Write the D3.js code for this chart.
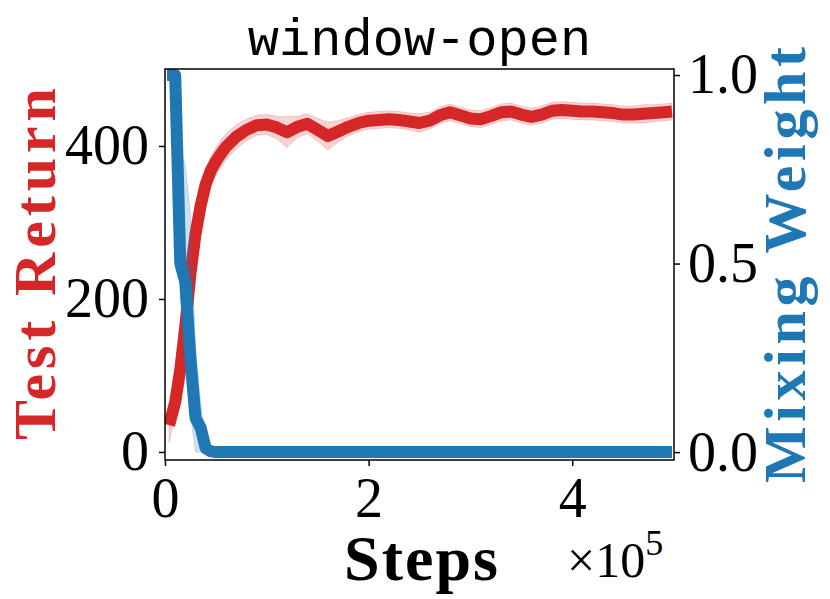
<!DOCTYPE html>
<html>
<head>
<meta charset="utf-8">
<script src="https://cdn.jsdelivr.net/npm/d3@7/dist/d3.min.js"></script>
<style>
  body { margin: 0; background: #fff; }
  svg { display: block; }
</style>
</head>
<body>
<div id="chart"></div>
<script>
// steps in units of 1e5
var returnSteps = [0.04, 0.1, 0.15, 0.2, 0.25, 0.3, 0.35, 0.4, 0.45, 0.5, 0.55, 0.6, 0.7, 0.8, 0.9,
  1.0, 1.1, 1.2, 1.3, 1.4, 1.5, 1.6, 1.7, 1.8, 1.9, 2.0, 2.1, 2.2, 2.3, 2.4, 2.5, 2.6, 2.7, 2.8, 2.9,
  3.0, 3.1, 3.2, 3.3, 3.4, 3.5, 3.6, 3.7, 3.8, 3.9, 4.0, 4.1, 4.2, 4.3, 4.4, 4.5, 4.6, 4.7, 4.8, 4.9, 4.98];
var returnMean = [35, 65, 108, 165, 233, 285, 322, 350, 368, 380, 390, 399, 412, 421, 427,
  428, 424, 418, 425, 429, 421, 413, 419, 425, 430, 433, 434, 435, 434, 432, 430, 433, 440, 444, 440,
  436, 435, 439, 444, 445, 441, 438, 441, 446, 447, 446, 445, 445, 444, 443, 441, 441, 442, 443, 444, 445];
var returnBand = [22, 18, 16, 16, 16, 16, 16, 17, 18, 18, 18, 17, 16, 14, 13,
  13, 15, 20, 14, 13, 15, 18, 14, 12, 11, 11, 11, 11, 11, 11, 12, 11, 11, 11, 11,
  11, 11, 11, 11, 11, 11, 11, 11, 11, 11, 11, 11, 11, 11, 11, 11, 11, 12, 11, 11, 11];

var weightSteps = [0.02, 0.1, 0.15, 0.2, 0.25, 0.3, 0.35, 0.4, 0.45, 0.5, 1.0, 2.0, 3.0, 4.0, 4.98];
var weightMean = [1.0, 1.0, 0.5, 0.45, 0.245, 0.09, 0.065, 0.01, 0.002, 0, 0, 0, 0, 0, 0];
var weightLo = [1.0, 1.0, 0.4, 0.32, 0.1, 0.0, 0.0, 0, 0, 0, 0, 0, 0, 0, 0];
var weightHi = [1.0, 1.0, 0.8, 0.76, 0.63, 0.28, 0.13, 0.03, 0.01, 0.01, 0.01, 0.01, 0.01, 0.01, 0.01];

var xTicks = [0, 2, 4];
var leftTicks = [0, 200, 400];
var rightTicks = [0, 0.5, 1.0];

var width = 830, height = 599;
var plotL = 165, plotR = 674, plotT = 69, plotB = 460;
var red = "#d62728", blue = "#1f77b4";
var serif = "'Liberation Serif', 'Times New Roman', serif";

var svg = d3.select("#chart").append("svg")
  .attr("width", width)
  .attr("height", height);

var x = d3.scaleLinear().domain([0, 5]).range([plotL, plotR]);
var yL = d3.scaleLinear().domain([-10.5, 500.6]).range([plotB, plotT]);
var yR = d3.scaleLinear().domain([-0.021, 1.016]).range([plotB, plotT]);

svg.append("clipPath").attr("id", "plot")
  .append("rect")
  .attr("x", plotL).attr("y", plotT)
  .attr("width", plotR - plotL).attr("height", plotB - plotT);

var ret = returnSteps.map(function(s, i) {
  return { s: s, m: returnMean[i], lo: returnMean[i] - returnBand[i], hi: returnMean[i] + returnBand[i] };
});
var wt = weightSteps.map(function(s, i) {
  return { s: s, m: weightMean[i], lo: weightLo[i], hi: weightHi[i] };
});

var g = svg.append("g").attr("clip-path", "url(#plot)");

g.append("path").datum(ret)
  .attr("fill", red).attr("fill-opacity", 0.2)
  .attr("stroke", red).attr("stroke-opacity", 0.2).attr("stroke-width", 1)
  .attr("d", d3.area().x(function(d) { return x(d.s); })
    .y0(function(d) { return yL(d.lo); }).y1(function(d) { return yL(d.hi); }));
g.append("path").datum(ret)
  .attr("fill", "none").attr("stroke", red).attr("stroke-width", 12)
  .attr("stroke-linejoin", "round")
  .attr("d", d3.line().x(function(d) { return x(d.s); }).y(function(d) { return yL(d.m); }));

g.append("path").datum(wt)
  .attr("fill", blue).attr("fill-opacity", 0.22)
  .attr("stroke", blue).attr("stroke-opacity", 0.2).attr("stroke-width", 1)
  .attr("d", d3.area().x(function(d) { return x(d.s); })
    .y0(function(d) { return yR(d.lo); }).y1(function(d) { return yR(d.hi); }));
g.append("path").datum(wt)
  .attr("fill", "none").attr("stroke", blue).attr("stroke-width", 12)
  .attr("stroke-linejoin", "round")
  .attr("d", d3.line().x(function(d) { return x(d.s); }).y(function(d) { return yR(d.m); }));

// spines
svg.append("rect")
  .attr("x", plotL).attr("y", plotT)
  .attr("width", plotR - plotL).attr("height", plotB - plotT)
  .attr("fill", "none").attr("stroke", "#000").attr("stroke-width", 1.5);

function styleAxis(sel, size) {
  sel.select(".domain").remove();
  sel.selectAll(".tick line").attr("stroke", "#000").attr("stroke-width", 1.5);
  sel.selectAll(".tick text").attr("fill", "#000")
    .style("font-family", serif).style("font-size", size + "px");
}

svg.append("g").attr("transform", "translate(0," + plotB + ")")
  .call(d3.axisBottom(x).tickValues(xTicks).tickSize(6).tickPadding(11).tickFormat(d3.format("d")))
  .call(styleAxis, 56);
svg.append("g").attr("transform", "translate(" + plotL + ",0)")
  .call(d3.axisLeft(yL).tickValues(leftTicks).tickSize(6).tickPadding(10).tickFormat(d3.format("d")))
  .call(styleAxis, 56);
svg.append("g").attr("transform", "translate(" + plotR + ",0)")
  .call(d3.axisRight(yR).tickValues(rightTicks).tickSize(6).tickPadding(8).tickFormat(d3.format(".1f")))
  .call(styleAxis, 56);

// title
svg.append("text")
  .attr("x", (plotL + plotR) / 2).attr("y", 55)
  .attr("text-anchor", "middle")
  .style("font-family", "'Liberation Mono', 'DejaVu Sans Mono', monospace")
  .style("font-size", "52px")
  .text("window-open");

// axis labels
svg.append("text")
  .attr("transform", "translate(55,264) rotate(-90)")
  .attr("text-anchor", "middle")
  .attr("textLength", 352)
  .attr("fill", red)
  .style("font-family", serif).style("font-weight", "bold").style("font-size", "60px")
  .text("Test Return");

svg.append("text")
  .attr("transform", "translate(805,265) rotate(-90)")
  .attr("text-anchor", "middle")
  .attr("textLength", 436)
  .attr("fill", blue)
  .style("font-family", serif).style("font-weight", "bold").style("font-size", "60px")
  .text("Mixing Weight");

svg.append("text")
  .attr("x", 421).attr("y", 580)
  .attr("text-anchor", "middle")
  .attr("textLength", 154)
  .style("font-family", serif).style("font-weight", "bold").style("font-size", "64px")
  .text("Steps");

var mult = svg.append("text")
  .attr("x", 567).attr("y", 577)
  .style("font-family", serif).style("font-size", "50px");
mult.append("tspan").text("\u00d710");
mult.append("tspan").attr("dy", -22).style("font-size", "36px").text("5");
</script>
</body>
</html>
